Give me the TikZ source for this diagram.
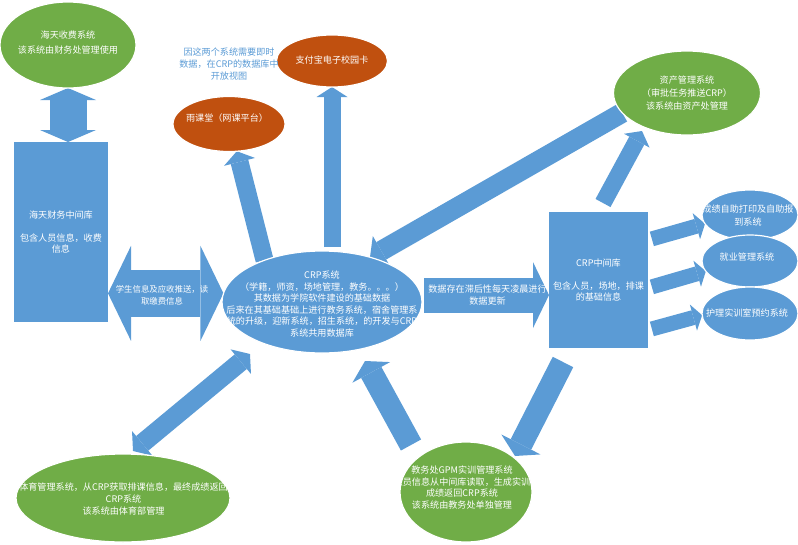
\documentclass[tikz,border=0pt]{standalone}
\usepackage{fontspec}
\setmainfont{Noto Sans CJK SC}
\usetikzlibrary{arrows.meta,shapes.geometric,backgrounds,calc}
\definecolor{ablue}{HTML}{5B9BD5}
\definecolor{agreen}{HTML}{70AD47}
\definecolor{aorange}{HTML}{C0500F}
\newcommand\myfs[2]{\fontsize{#1}{#2}\selectfont}
\tikzset{
 shp/.style={draw=white, line width=1.2pt, inner sep=0pt, outer sep=0pt},
 gell/.style={shp, ellipse, fill=agreen},
 oell/.style={shp, ellipse, fill=aorange},
 bell/.style={shp, ellipse, fill=ablue},
 bbox/.style={rectangle, fill=ablue, draw=none, inner sep=0pt, outer sep=0pt},
 lbl/.style={text=white, align=center, inner sep=0pt, font=\myfs{9.1}{11.6}},
 barr/.style n args={3}{draw=ablue, line width=#1, arrows={-Triangle[width=#2, length=#3, line width=0pt]}},
 dbarr/.style n args={3}{draw=ablue, line width=#1, arrows={Triangle[width=#2, length=#3, line width=0pt]-Triangle[width=#2, length=#3, line width=0pt]}},
}
\begin{document}
\begin{tikzpicture}[x=1pt,y=-1pt]
\useasboundingbox (0,0) rectangle (798,544);
% shapes
\node[gell, minimum width=136pt, minimum height=86pt] (hts) at (68,45) {};
\node[bbox, minimum width=94pt, minimum height=180pt] (htdb) at (61,232) {};
\node[bell, minimum width=200pt, minimum height=102pt] (crp) at (322,302) {};
\node[oell, minimum width=112pt, minimum height=55pt] (yu) at (229,124) {};
\node[oell, minimum width=111pt, minimum height=52pt] (zfb) at (332,61) {};
\node[gell, minimum width=147pt, minimum height=84pt] (zc) at (687,93) {};
\node[bbox, minimum width=99pt, minimum height=136pt] (mid) at (598.5,280) {};
\node[bell, minimum width=96pt, minimum height=50pt] (r1) at (750,215) {};
\node[bell, minimum width=96pt, minimum height=52pt] (r2) at (750,261) {};
\node[bell, minimum width=96pt, minimum height=53pt] (r3) at (750,313.5) {};
\node[gell, minimum width=214pt, minimum height=88pt] (ty) at (123,498) {};
\node[gell, minimum width=132pt, minimum height=100pt] (gpm) at (466,492) {};
% free arrow ends
\coordinate (mid-zc) at (603,203);
\coordinate (zc-in) at (642,131);
\coordinate (crp-ty) at (250,354);
\coordinate (ty-in) at (133,451);
\coordinate (gpm-out) at (411,445);
\coordinate (crp-in) at (365,361);
\coordinate (mid-out) at (563,362);
\coordinate (gpm-in) at (515,456);
% connectors
\begin{pgfonlayer}{background}
\draw[dbarr={37pt}{56pt}{12pt}] (hts.south) -- (hts.south |- htdb.north);
\draw[dbarr={47pt}{95pt}{23pt}] (htdb.east |- crp.175) -- (crp.175);
\draw[barr={18pt}{32pt}{11pt}] (crp.144) -- (yu.-74);
\draw[barr={17pt}{31pt}{10pt}, shorten <=4pt] (zfb.south |- crp.north) -- (zfb.south);
\draw[barr={20pt}{34pt}{13pt}] (zc.197) -- (crp.43);
\draw[barr={17pt}{29pt}{11pt}] (mid-zc) -- (zc-in);
\draw[barr={35pt}{66pt}{16pt}, shorten <=3pt] (crp.4) -- (mid.west |- crp.4);
\draw[barr={15pt}{27pt}{9pt}, shorten <=4pt] ([yshift=40pt]mid.east) -- (r1.191);
\draw[barr={15pt}{27pt}{9pt}, shorten <=4pt] ([yshift=-8pt]mid.east) -- (r2.193);
\draw[barr={15pt}{27pt}{9pt}, shorten <=4pt] ([yshift=-50pt]mid.east) -- (r3.182);
\draw[dbarr={19pt}{32pt}{12pt}] (crp-ty) -- (ty-in);
\draw[barr={23pt}{43pt}{13pt}] (gpm-out) -- (crp-in);
\draw[barr={23pt}{44pt}{13pt}] (mid-out) -- (gpm-in);
\end{pgfonlayer}
% texts
\node[lbl, font=\myfs{9.1}{15}] (hts-t) at (68,42.5) {海天收费系统\\该系统由财务处管理使用};
\node[lbl] (htdb-t) at (61,232) {海天财务中间库\\[11.6pt]包含人员信息，收费\\信息};
\node[lbl, font=\myfs{8.4}{11.5}] (hd-t) at (162,295.5) {学生信息及应收推送，读\\取缴费信息};
\node[lbl] (crp-t) at (322,304) {CRP系统\\（学籍，师资，场地管理，教务。。。）\\其数据为学院软件建设的基础数据\\后来在其基础基础上进行教务系统，宿舍管理系\\统的升级，迎新系统，招生系统，的开发与CRP\\系统共用数据库};
\node[lbl] (yu-t) at (227,118) {雨课堂（网课平台）};
\node[lbl] (zfb-t) at (332,60) {支付宝电子校园卡};
\node[lbl, text=ablue, font=\myfs{9.1}{12}] (note) at (229,64) {因这两个系统需要即时\\数据，在CRP的数据库中\\开放视图};
\node[lbl, font=\myfs{9.1}{13}] (zc-t) at (687,93) {资产管理系统\\（审批任务推送CRP）\\该系统由资产处管理};
\node[lbl] (mid-data) at (487.5,295) {数据存在滞后性每天凌晨进行\\数据更新};
\node[lbl] (mid-t) at (598.5,280) {CRP中间库\\[11.6pt]包含人员，场地，排课\\的基础信息};
\node[lbl, font=\myfs{9.1}{13}] (r1-t) at (748,215.5) {成绩自助打印及自助报\\到系统};
\node[lbl] (r2-t) at (747,257) {就业管理系统};
\node[lbl] (r3-t) at (747,313) {护理实训室预约系统};
\node[lbl, font=\myfs{9.1}{12}] (ty-t) at (123.5,499) {体育管理系统，从CRP获取排课信息，最终成绩返回\\CRP系统\\该系统由体育部管理};
\node[lbl] (gpm-t) at (462,487.5) {教务处GPM实训管理系统\\人员信息从中间库读取，生成实训\\成绩返回CRP系统\\该系统由教务处单独管理};
\end{tikzpicture}
\end{document}
